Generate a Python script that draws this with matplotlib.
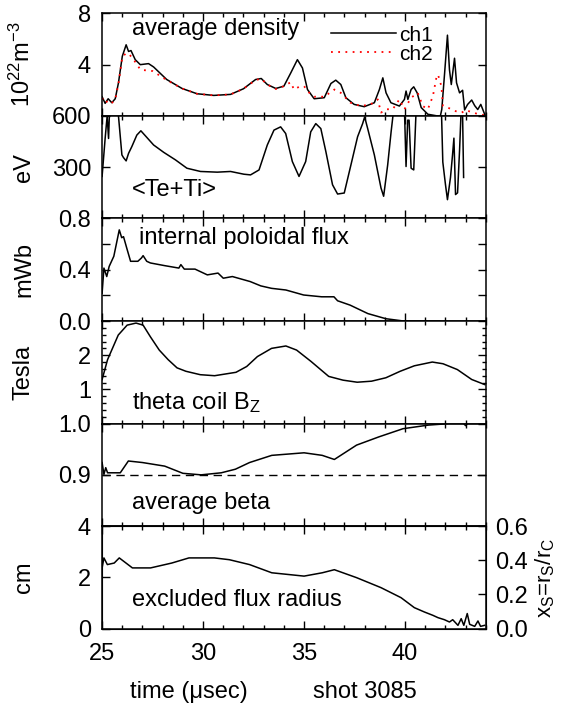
import numpy as np
import matplotlib
matplotlib.use('Agg')
import matplotlib.pyplot as plt
from matplotlib.ticker import MultipleLocator

plt.rcParams['font.family'] = ['Liberation Sans', 'DejaVu Sans']
plt.rcParams['mathtext.fontset'] = 'custom'
plt.rcParams['mathtext.rm'] = 'Liberation Sans'
plt.rcParams['mathtext.it'] = 'Liberation Sans'
plt.rcParams['mathtext.bf'] = 'Liberation Sans'
plt.rcParams['font.size'] = 17

# average density, ch1 and ch2 (10^22 m^-3)
t_dens1 = [25.0, 25.15, 25.3, 25.48, 25.65, 25.81, 26.0, 26.19, 26.31, 26.43, 26.64, 26.89,
           27.3, 27.55, 28.2, 28.96, 29.7, 30.53, 31.36, 32.0, 32.6, 32.88, 33.18, 33.6,
           33.84, 34.0, 34.34, 34.67, 34.92, 35.17, 35.5, 36.0, 36.33, 36.57, 36.82, 37.07,
           37.48, 37.98, 38.48, 38.73, 38.9, 39.06, 39.3, 39.72, 39.97, 40.05, 40.14, 40.3,
           40.43, 40.6, 40.8, 41.13, 41.6, 41.75, 41.82, 41.96, 42.1, 42.2, 42.29, 42.45,
           42.55, 42.7, 42.85, 42.95, 43.1, 43.3, 43.45, 43.6, 43.75, 43.95]
dens_ch1 = [1.5, 0.98, 1.34, 1.03, 1.34, 2.58, 4.65, 5.55, 5.03, 5.1, 4.39, 4.0,
            4.08, 3.82, 2.84, 2.14, 1.73, 1.6, 1.68, 2.12, 2.84, 2.92, 2.45, 2.14,
            2.25, 2.32, 3.35, 4.39, 3.74, 2.06, 1.34, 1.42, 2.53, 2.79, 2.45, 1.42,
            0.9, 0.72, 1.03, 2.06, 2.97, 1.8, 1.03, 0.77, 1.29, 1.94, 1.29, 2.06,
            2.27, 1.8, 0.65, 0.13, 0.0, 0.0, 0.52, 3.35, 6.3, 3.6, 2.45, 4.5,
            2.58, 1.8, 2.0, 0.47, 0.9, 1.24, 0.8, 0.5, 0.9, 0.1]

t_dens2 = [25.0, 25.15, 25.3, 25.48, 25.65, 25.81, 26.0, 26.19, 26.35, 26.6, 26.9, 27.2,
           27.5, 28.2, 28.96, 29.7, 30.53, 31.36, 32.0, 32.6, 32.88, 33.18, 33.6, 34.0,
           34.34, 34.5, 34.75, 35.0, 35.26, 35.5, 36.0, 36.5, 36.82, 37.3, 37.8, 38.3,
           38.65, 38.81, 39.06, 39.39, 39.72, 39.97, 40.3, 40.63, 40.88, 41.13, 41.38, 41.55,
           41.63, 41.8, 41.88, 42.12, 42.46, 42.8, 43.0, 43.3, 43.6, 43.95]
dens_ch2 = [1.4, 1.0, 1.2, 1.0, 1.3, 2.5, 4.6, 4.9, 4.8, 4.3, 3.6, 3.55,
            3.5, 2.8, 2.14, 1.73, 1.6, 1.68, 2.12, 2.8, 2.9, 2.45, 2.1, 2.32,
            2.63, 2.06, 2.27, 2.32, 1.8, 1.5, 1.5, 2.06, 1.8, 1.03, 0.77, 0.9,
            1.29, 0.26, 0.52, 0.52, 1.29, 0.52, 1.42, 1.8, 0.77, 0.52, 1.55, 2.97,
            3.23, 2.32, 0.77, 0.65, 0.39, 0.25, 0.45, 0.3, 0.15, 0.05]

# <Te+Ti> (eV)
t_temp = [25.0, 25.15, 25.25, 25.32, 25.37, 25.6, 25.81, 25.98, 26.06, 26.19, 26.31, 26.47,
          26.72, 26.92, 27.14, 27.55, 28.05, 28.63, 29.2, 29.87, 30.7, 31.36, 32.02, 32.35,
          32.77, 33.18, 33.51, 33.84, 34.09, 34.42, 34.75, 35.08, 35.33, 35.58, 35.83, 36.08,
          36.41, 36.66, 36.99, 37.32, 37.65, 37.9, 38.0, 38.15, 38.48, 38.81, 38.94, 39.14,
          39.31, 39.44, 39.7, 39.97, 40.05, 40.13, 40.2, 40.3, 40.43, 40.55, 41.2, 41.8,
          41.87, 42.0, 42.1, 42.25, 42.35, 42.42, 42.5, 42.6, 42.7, 42.78, 42.85, 42.9]
temp = [246, 468, 600, 468, 640, 680, 600, 372, 356, 337, 381, 420,
        488, 513, 484, 430, 387, 343, 294, 275, 271, 275, 259, 255,
        284, 430, 517, 536, 497, 333, 246, 333, 507, 555, 526, 391,
        197, 143, 149, 313, 478, 555, 594, 526, 372, 178, 130, 313,
        507, 640, 680, 640, 304, 575, 575, 294, 284, 640, 700, 640,
        330, 200, 110, 240, 370, 470, 140, 150, 400, 640, 600, 240]

# internal poloidal flux (mWb)
t_flux = [25.0, 25.09, 25.23, 25.35, 25.58, 25.85, 25.97, 26.06, 26.24, 26.41, 26.77, 26.95,
          27.03, 27.21, 27.39, 28.1, 28.8, 28.9, 29.07, 29.6, 30.21, 30.74, 31.0, 31.45,
          32.33, 32.86, 33.39, 34.1, 34.98, 35.87, 36.48, 36.66, 37.28, 38.16, 39.05, 39.93,
          41.7]
flux = [0.216, 0.413, 0.347, 0.426, 0.505, 0.711, 0.65, 0.658, 0.558, 0.466, 0.466, 0.492,
        0.51, 0.466, 0.453, 0.432, 0.413, 0.44, 0.405, 0.405, 0.36, 0.374, 0.334, 0.347,
        0.308, 0.274, 0.255, 0.242, 0.203, 0.189, 0.189, 0.158, 0.124, 0.058, 0.018, 0.0,
        0.0]

# theta coil Bz (Tesla)
t_bz = [25.0, 25.27, 25.8, 26.24, 26.68, 27.03, 27.39, 27.83, 28.27, 28.71, 29.15, 29.86,
        30.57, 31.63, 32.16, 32.69, 33.39, 34.1, 34.63, 35.34, 36.22, 36.93, 37.63, 38.34,
        39.05, 39.76, 40.46, 41.35, 41.88, 42.59, 43.3, 43.95]
bz = [1.29, 1.87, 2.59, 2.88, 2.94, 2.88, 2.54, 2.15, 1.87, 1.63, 1.53, 1.43,
      1.40, 1.5, 1.67, 1.96, 2.2, 2.27, 2.15, 1.82, 1.38, 1.27, 1.21, 1.24,
      1.34, 1.53, 1.69, 1.8, 1.75, 1.58, 1.29, 1.14]

# average beta
t_beta = [25.0, 25.09, 25.18, 25.27, 25.9, 26.3, 27.0, 28.1, 29.0, 29.9, 30.9, 31.6,
          32.3, 33.4, 35.0, 35.9, 36.5, 37.6, 38.7, 39.9, 41.15, 42.2, 42.9, 43.0,
          43.1, 43.95]
beta = [0.924, 0.901, 0.914, 0.904, 0.904, 0.927, 0.924, 0.917, 0.903, 0.9, 0.904, 0.911,
        0.924, 0.938, 0.943, 0.938, 0.930, 0.958, 0.974, 0.990, 0.997, 1.0, 1.0, 0.996,
        1.0, 1.0]
beta_ref = 0.9

# excluded flux radius (cm)
t_rad = [25.0, 25.09, 25.26, 25.6, 25.85, 26.5, 27.4, 28.45, 29.3, 30.56, 31.3, 32.3,
         33.4, 35.0, 35.9, 36.5, 37.6, 38.81, 39.47, 39.8, 40.46, 40.96, 41.38, 41.63,
         41.95, 42.2, 42.36, 42.62, 42.78, 42.91, 43.08, 43.2, 43.45, 43.61, 43.74, 43.94]
rad = [2.37, 2.76, 2.5, 2.56, 2.76, 2.37, 2.37, 2.56, 2.76, 2.76, 2.69, 2.5,
       2.18, 2.05, 2.18, 2.3, 1.99, 1.6, 1.34, 1.21, 0.82, 0.65, 0.52, 0.43,
       0.35, 0.26, 0.35, 0.13, 0.39, 0.13, 0.59, 0.17, 0.09, 0.3, 0.09, 0.13]

fig, axes = plt.subplots(6, 1, figsize=(5.61, 7.04), dpi=100, sharex=True)
fig.subplots_adjust(left=0.182, right=0.866, top=0.981, bottom=0.107, hspace=0)
ax1, ax2, ax3, ax4, ax5, ax6 = axes

lw = 1.1
ax1.plot(t_dens1, dens_ch1, color='black', lw=lw, label='ch1')
ax1.plot(t_dens2, dens_ch2, color='red', lw=1.3, linestyle=(0, (1, 3)), label='ch2')
ax2.plot(t_temp, temp, color='black', lw=lw)
ax3.plot(t_flux, flux, color='black', lw=lw)
ax4.plot(t_bz, bz, color='black', lw=lw)
ax5.plot(t_beta, beta, color='black', lw=lw)
ax5.axhline(beta_ref, color='black', lw=1.0, linestyle=(0, (6, 4)))
ax6.plot(t_rad, rad, color='black', lw=lw)

ax1.set_ylim(0, 8)
ax1.set_yticks([0, 4, 8], ['', '4', '8'])
ax2.set_ylim(0, 600)
ax2.set_yticks([0, 300, 600], ['', '300', '600'])
ax3.set_ylim(0, 0.8)
ax3.set_yticks([0, 0.2, 0.4, 0.6, 0.8], ['0.0', '', '0.4', '', '0.8'])
ax4.set_ylim(0, 3)
ax4.set_yticks([0, 1, 2, 3], ['', '1', '2', ''])
ax4.yaxis.set_minor_locator(MultipleLocator(0.2))
ax5.set_ylim(0.8, 1.0)
ax5.set_yticks([0.8, 0.9, 1.0], ['', '0.9', '1.0'])
ax6.set_ylim(0, 4)
ax6.set_yticks([0, 2, 4], ['0', '2', '4'])

ax6.set_xlim(25, 44)
ax6.set_xticks([25, 30, 35, 40])
ax6.xaxis.set_minor_locator(MultipleLocator(1))

for ax in axes:
    ax.tick_params(which='both', direction='in', top=True, right=True, width=1.0)
    ax.tick_params(which='major', length=6, labelsize=17, pad=8)
    ax.tick_params(which='minor', length=3)
    ax.tick_params(axis='x', pad=10)
    for s in ax.spines.values():
        s.set_linewidth(1.1)
ax6.tick_params(axis='y', right=False)

ax6r = ax6.twinx()
ax6r.set_ylim(0, 0.6)
ax6r.set_yticks([0, 0.2, 0.4, 0.6], ['0.0', '0.2', '0.4', '0.6'])
ax6r.tick_params(direction='in', length=6, width=1.0, labelsize=17, pad=7)
ax6r.set_ylabel('x$_\\mathrm{S}$=r$_\\mathrm{S}$/r$_\\mathrm{C}$', fontsize=16)
ax6r.yaxis.set_label_coords(1.125, 0.5)

ylabels = ['10$^{22}$m$^{-3}$', 'eV', 'mWb', 'Tesla', '', 'cm']
for ax, lab in zip(axes, ylabels):
    ax.set_ylabel(lab, fontsize=17)
    ax.yaxis.set_label_coords(-0.175, 0.5)

ax1.text(0.078, 0.79, 'average density', transform=ax1.transAxes, fontsize=17, va='baseline')
ax2.text(0.078, 0.215, '<Te+Ti>', transform=ax2.transAxes, fontsize=17, va='baseline')
ax3.text(0.095, 0.75, 'internal poloidal flux', transform=ax3.transAxes, fontsize=17, va='baseline')
ax4.text(0.078, 0.14, 'theta coil B$_\\mathrm{Z}$', transform=ax4.transAxes, fontsize=17, va='baseline')
ax5.text(0.078, 0.17, 'average beta', transform=ax5.transAxes, fontsize=17, va='baseline')
ax6.text(0.078, 0.22, 'excluded flux radius', transform=ax6.transAxes, fontsize=17, va='baseline')

ax6.text(0.074, -0.68, 'time (\u03bcsec)', transform=ax6.transAxes, fontsize=17, va='baseline')
ax6.text(0.55, -0.68, 'shot 3085', transform=ax6.transAxes, fontsize=17, va='baseline')

ax1.legend(loc='upper right', bbox_to_anchor=(0.862, 0.88), frameon=False, fontsize=15,
           handlelength=3.1, handletextpad=0.15, labelspacing=0.0, borderpad=0,
           borderaxespad=0)

fig.savefig('out.png', dpi=100)
